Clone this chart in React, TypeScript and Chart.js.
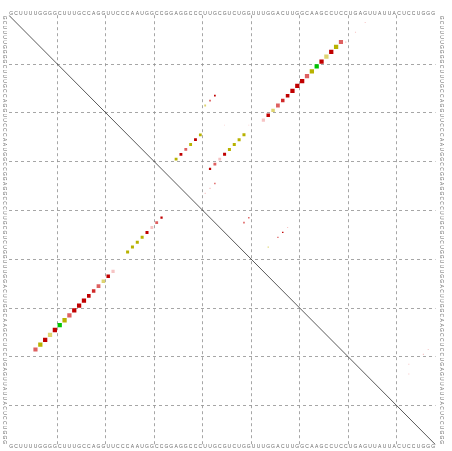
import React, { useEffect, useRef } from "react";
import { Chart, registerables } from "chart.js";

Chart.register(...registerables);

// Consensus sequence (positions 1..88)
const SEQUENCE =
  "GCUUUUGGGGCUUUGCCAGGUUCCCAAUGGCCGGAGGCCCUUGC" +
  "GUCUGGUUUGGACUUGGCAAGCCUCCUGAGUUAUUACUCCUGGG";
const N = SEQUENCE.length;
const GRID_STEP = 10;

// Pair classes: R dark red, r red, p pale red, l very pale red,
// O ochre, o pale ochre, G green
type Pair = [number, number, number, string]; // [i, j, probability, class]

// Helix 1 (in MFE structure and in pair probabilities)
const helix1: Pair[] = [
  [6, 69, 0.85, "p"],
  [7, 68, 0.9, "O"],
  [8, 67, 0.9, "R"],
  [9, 66, 0.9, "o"],
  [10, 65, 0.9, "R"],
  [11, 64, 0.9, "G"],
  [12, 63, 0.9, "O"],
  [13, 62, 0.9, "p"],
  [14, 61, 0.9, "R"],
  [15, 60, 0.9, "R"],
  [16, 59, 0.9, "R"],
  [17, 58, 0.65, "R"],
  [18, 57, 0.6, "r"],
  [19, 56, 0.7, "p"],
  [20, 55, 0.6, "o"],
  [21, 54, 0.6, "R"],
  [22, 53, 0.5, "l"],
];

// Helix 2 (in MFE structure and in pair probabilities)
const helix2: Pair[] = [
  [25, 49, 0.45, "O"],
  [26, 48, 0.45, "O"],
  [27, 47, 0.45, "O"],
  [28, 46, 0.45, "O"],
  [29, 45, 0.45, "R"],
  [30, 44, 0.4, "l"],
  [31, 43, 0.4, "p"],
  [32, 42, 0.25, "R"],
];

// Alternative helices (pair probabilities only)
const altHelix1: Pair[] = [
  [25, 40, 0.38, "O"],
  [26, 39, 0.4, "R"],
  [27, 38, 0.4, "O"],
  [28, 37, 0.4, "p"],
  [29, 36, 0.4, "R"],
  [30, 35, 0.4, "O"],
];

const altHelix2: Pair[] = [
  [17, 43, 0.15, "R"],
  [18, 42, 0.15, "p"],
  [19, 41, 0.17, "o"],
];

const weakPairs: Pair[] = [
  [2, 74, 0.05, "l"],
  [4, 72, 0.06, "l"],
  [6, 70, 0.07, "l"],
  [35, 43, 0.1, "p"],
  [36, 42, 0.08, "l"],
  [37, 41, 0.06, "l"],
  [42, 50, 0.1, "p"],
  [43, 49, 0.12, "p"],
  [44, 58, 0.06, "l"],
  [45, 57, 0.1, "R"],
  [46, 56, 0.08, "p"],
  [48, 54, 0.07, "o"],
  [69, 87, 0.05, "l"],
  [70, 86, 0.06, "l"],
  [72, 83, 0.05, "l"],
  [74, 83, 0.05, "l"],
  [23, 45, 0.03, "l"],
  [23, 50, 0.03, "l"],
];

const PAIR_COLORS: Record<string, string> = {
  R: "rgb(192,0,0)",
  r: "rgb(208,40,40)",
  p: "rgb(222,96,96)",
  l: "rgb(246,196,196)",
  O: "rgb(184,178,0)",
  o: "rgb(222,212,112)",
  G: "rgb(0,196,0)",
};

const upperPairs: Pair[] = [...helix1, ...helix2, ...altHelix1, ...altHelix2, ...weakPairs];
const lowerPairs: Pair[] = [...helix1, ...helix2];

function makeDataset(pairs: Pair[], upper: boolean) {
  const data = pairs.map(([i, j]) =>
    upper ? { x: j - 0.5, y: i - 0.5 } : { x: i - 0.5, y: j - 0.5 }
  );
  const side = pairs.map(([, , p]) => 4.5 * Math.sqrt(p));
  return {
    type: "scatter" as const,
    data,
    pointStyle: "rect" as const,
    pointRadius: side.map((s) => s / Math.SQRT2),
    pointHoverRadius: side.map((s) => s / Math.SQRT2),
    pointBackgroundColor: pairs.map(([, , , c]) => PAIR_COLORS[c]),
    pointBorderWidth: 0,
    borderWidth: 0,
    showLine: false,
  };
}

const sequencePlugin = {
  id: "sequenceLabels",
  afterDraw(chart: any) {
    const { ctx, chartArea } = chart;
    const xs = chart.scales.x;
    const ys = chart.scales.y;
    ctx.save();
    ctx.font = '5px "Liberation Sans", Arial, sans-serif';
    ctx.fillStyle = "#6a6a6a";
    ctx.textAlign = "center";
    ctx.textBaseline = "middle";
    for (let k = 0; k < N; k++) {
      const ch = SEQUENCE[k];
      const px = xs.getPixelForValue(k + 0.5);
      const py = ys.getPixelForValue(k + 0.5);
      ctx.fillText(ch, px, chartArea.top - 1.8);
      ctx.fillText(ch, px, chartArea.bottom + 1.6);
      for (const cx of [chartArea.left - 4.3, chartArea.right + 6.2]) {
        ctx.save();
        ctx.translate(cx, py);
        ctx.rotate(Math.PI / 2);
        ctx.fillText(ch, 0, 0);
        ctx.restore();
      }
    }
    ctx.restore();
  },
};

export default function App() {
  const canvasRef = useRef<HTMLCanvasElement | null>(null);

  useEffect(() => {
    if (!canvasRef.current) return;
    const gridColor = (c: any) => {
      const v = c.tick ? c.tick.value : 0;
      return v > 0 && v < N && v % GRID_STEP === 0 ? "rgba(150,150,150,0.85)" : "rgba(0,0,0,0)";
    };
    const axis = (reverse: boolean) => ({
      type: "linear" as const,
      min: 0,
      max: N,
      reverse,
      ticks: { display: false, stepSize: GRID_STEP },
      grid: { color: gridColor, drawTicks: false, lineWidth: 1 },
      border: { display: false, dash: [3, 3] },
    });
    const chart = new Chart(canvasRef.current, {
      type: "scatter",
      data: {
        datasets: [
          {
            type: "line",
            data: [
              { x: 0, y: 0 },
              { x: N, y: N },
            ],
            borderColor: "#303030",
            borderWidth: 0.8,
            pointRadius: 0,
            fill: false,
          } as any,
          makeDataset(upperPairs, true) as any,
          makeDataset(lowerPairs, false) as any,
        ],
      },
      options: {
        animation: false,
        responsive: true,
        maintainAspectRatio: false,
        layout: { padding: { left: 8.8, top: 15.2, right: 16.5, bottom: 6.3 } },
        plugins: { legend: { display: false }, tooltip: { enabled: false } },
        scales: { x: axis(false), y: axis(true) },
      },
      plugins: [sequencePlugin],
    });
    return () => chart.destroy();
  }, []);

  return (
    <div style={{ position: "absolute", left: 0, top: 0, width: 452, height: 451, background: "#fff" }}>
      <canvas ref={canvasRef} />
    </div>
  );
}
